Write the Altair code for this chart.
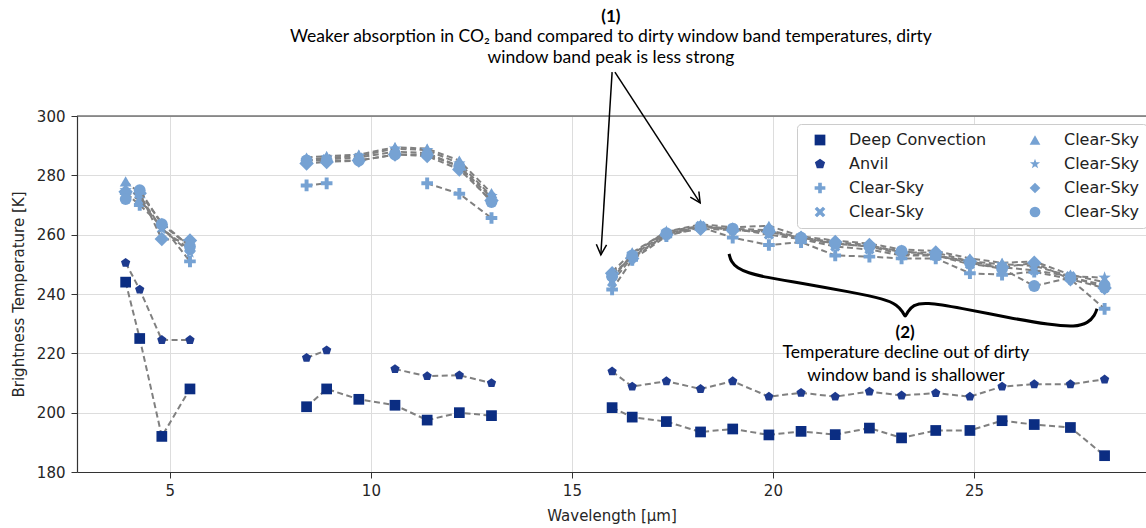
import altair as alt
import pandas as pd

# ---------------- data ----------------
wl_a = [3.9, 4.25, 4.8, 5.5]
wl_b = [8.4, 8.9, 9.7, 10.6, 11.4, 12.2, 13.0]
wl_c = [16.0, 16.5, 17.35, 18.2, 19.0, 19.9, 20.7, 21.55, 22.4, 23.2, 24.05, 24.9, 25.7, 26.5, 27.4, 28.25]

deep_a = [244, 225, 192, 208]
deep_b = [202, 208, 204.5, 202.5, 197.5, 200, 199]
deep_c = [201.7, 198.5, 197, 193.5, 194.5, 192.5, 193.7, 192.6, 194.8, 191.5, 194, 194, 197.3, 196, 195, 185.5]

anvil_a = [250.5, 241.5, 224.5, 224.5]
anvil_b = [218.5, 221, None, 214.7, 212.3, 212.6, 210]
anvil_c = [213.9, 208.8, 210.6, 208, 210.6, 205.4, 206.7, 205.4, 207.1, 205.8, 206.6, 205.4, 208.8, 209.6, 209.6, 211.2]

plus_a = [274, 270, 263, 251]
plus_b = [276.6, 277.3, None, None, 277.3, 273.8, 265.6]
plus_c = [241.5, 251.5, 259.5, 262.5, 259, 256.5, 257.5, 253, 252.6, 252, 252, 247, 246.5, 247.5, 245, 235]

xsky_a = [273, 272, 262, 255]
xsky_b = [285, 285.5, 286, 288, 287.5, 283, 272.5]
xsky_c = [244, 252.5, 260, 263, 262, 260, 258.5, 256, 255, 253, 253, 250, 249, 248, 246, 242]

tri_a = [278, 274, 264, 256]
tri_b = [286, 286.5, 287, 289.5, 289, 285, 274]
tri_c = [247.5, 254, 261, 263.5, 262.5, 263, 259.5, 258, 257, 255, 254.5, 252, 250.5, 251, 246.5, 244]

star_a = [275, 273, 262, 254]
star_b = [285, 286, 286.5, 289, 288.5, 284, 273]
star_c = [245, 253.5, 261, 263, 261.5, 261, 258.5, 257, 256, 253.5, 253, 251, 250, 249.5, 246, 245.5]

diam_a = [274.5, 274, 258.5, 258]
diam_b = [284, 284.5, 285, 287, 286.5, 282, 271.5]
diam_c = [247, 252, 260, 262, 261.5, 261, 259, 257.5, 256.5, 254, 254, 251, 249, 250.5, 245, 242]

circ_a = [272, 275, 263.5, 256]
circ_b = [285, 285, 285, 287, 287, 283, 271]
circ_c = [246, 253, 260.5, 262.5, 262, 261.5, 259, 257, 256, 254.5, 253, 250.5, 248.5, 242.7, 245.5, 243]

series = {
    "Deep Convection": (deep_a, deep_b, deep_c),
    "Anvil": (anvil_a, anvil_b, anvil_c),
    "Clear-Sky|plus": (plus_a, plus_b, plus_c),
    "Clear-Sky|x": (xsky_a, xsky_b, xsky_c),
    "Clear-Sky|tri": (tri_a, tri_b, tri_c),
    "Clear-Sky|star": (star_a, star_b, star_c),
    "Clear-Sky|diamond": (diam_a, diam_b, diam_c),
    "Clear-Sky|circle": (circ_a, circ_b, circ_c),
}
plot_order = list(series.keys())

# annotations (data units)
note_heads = ["(1)", "(2)"]
note_heads_x = [15.97, 23.29]
note_heads_y = [333.4, 227.0]
note_lines = ["Weaker absorption in CO\u2082 band compared to dirty window band temperatures, dirty",
              "window band peak is less strong",
              "Temperature decline out of dirty", "window band is shallower"]
note_lines_x = [15.97, 15.97, 23.31, 23.31]
note_lines_y = [326.6, 319.5, 220.1, 212.4]
arrow_x = [16.00, 15.72, 16.07, 18.19]
arrow_y = [314.8, 253.2, 314.8, 270.7]
arrow_angle = [183.4, 147.0]
brace_x = [18.91, 18.96, 19.11, 19.38, 19.80, 20.68, 21.92, 22.79, 23.09, 23.24, 23.29,
           23.34, 23.49, 23.78, 24.66, 25.90, 26.89, 27.52, 27.84, 28.01, 28.06]
brace_y = [253.5, 250.8, 248.8, 247.1, 245.7, 243.7, 240.7, 238.3, 236.3, 233.9, 231.9,
           233.9, 236.3, 237.3, 235.3, 231.9, 229.6, 228.9, 230.2, 232.9, 235.0]

# ---------------- styles ----------------
PENTAGON = "M0,-1L0.951,-0.309L0.588,0.809L-0.588,0.809L-0.951,-0.309Z"
PLUS = "M-0.34,-1L0.34,-1L0.34,-0.34L1,-0.34L1,0.34L0.34,0.34L0.34,1L-0.34,1L-0.34,0.34L-1,0.34L-1,-0.34L-0.34,-0.34Z"
XSHAPE = "M-1,-0.55L-0.55,-1L0,-0.45L0.55,-1L1,-0.55L0.45,0L1,0.55L0.55,1L0,0.45L-0.55,1L-1,0.55L-0.45,0Z"
STAR = ("M0,-1L0.235,-0.324L0.951,-0.309L0.380,0.124L0.588,0.809L0,0.4L-0.588,0.809"
        "L-0.380,0.124L-0.951,-0.309L-0.235,-0.324Z")
ARROWHEAD = "M-0.5,1L0,0L0.5,1"

DC_COL = "#0b2d82"
AN_COL = "#1d3a8e"
CS_COL = "#76a2d3"

style = {
    "Deep Convection": ("square", DC_COL, 115),
    "Anvil": (PENTAGON, AN_COL, 95),
    "Clear-Sky|plus": (PLUS, CS_COL, 135),
    "Clear-Sky|x": (XSHAPE, CS_COL, 105),
    "Clear-Sky|tri": ("triangle-up", CS_COL, 140),
    "Clear-Sky|star": (STAR, CS_COL, 170),
    "Clear-Sky|diamond": ("diamond", CS_COL, 210),
    "Clear-Sky|circle": ("circle", CS_COL, 140),
}
legend_order = plot_order

rows = []
for key, parts in series.items():
    seg = 0
    for wls, vals in zip([wl_a, wl_b, wl_c], parts):
        seg += 1
        for w, v in zip(wls, vals):
            if v is None:
                seg += 1
                continue
            rows.append({"series": key, "seg": seg, "wl": w, "bt": v})
df = pd.DataFrame(rows)

FONT = "DejaVu Sans"
X = alt.X("wl:Q", scale=alt.Scale(domain=[2.69, 29.28], nice=False, zero=False),
          axis=alt.Axis(values=[5, 10, 15, 20, 25], title="Wavelength [\u03bcm]", grid=True,
                        labelPadding=5, titlePadding=10))
Y = alt.Y("bt:Q", scale=alt.Scale(domain=[180, 300], nice=False, zero=False),
          axis=alt.Axis(values=[180, 200, 220, 240, 260, 280, 300], title="Brightness Temperature [K]",
                        grid=True, labelPadding=6, titlePadding=10))

legend = alt.Legend(title=None, orient="none", legendX=720, legendY=8, columns=2,
                    labelExpr="split(datum.label, '|')[0]", labelFont=FONT, labelFontSize=16,
                    labelColor="#222222", symbolSize=115, symbolStrokeWidth=0, rowPadding=8,
                    columnPadding=33, labelOffset=21, symbolOffset=7, padding=8,
                    strokeColor="#cccccc", fillColor="white", cornerRadius=4)
color_enc = alt.Color("series:N", scale=alt.Scale(domain=legend_order,
                      range=[style[k][1] for k in legend_order]), legend=legend)
shape_enc = alt.Shape("series:N", scale=alt.Scale(domain=legend_order,
                      range=[style[k][0] for k in legend_order]), legend=legend)

layers = []
for key in plot_order:
    sub = df[df.series == key]
    layers.append(alt.Chart(sub).mark_line(color="#808080", strokeWidth=2, strokeDash=[6, 3.5]).encode(
        x=X, y=Y, detail="seg:N", order="wl:Q"))
    layers.append(alt.Chart(sub).mark_point(filled=True, opacity=1, size=style[key][2]).encode(
        x=X, y=Y, color=color_enc, shape=shape_enc))

top_spine = alt.Chart(pd.DataFrame({"bt": [300]})).mark_rule(color="#333333", strokeWidth=1.2).encode(y=Y)

heads_df = pd.DataFrame({"wl": note_heads_x, "bt": note_heads_y, "t": note_heads})
heads_txt = alt.Chart(heads_df).mark_text(font="Lato", fontSize=17, fontWeight="bold", color="black",
                                          align="center", baseline="middle").encode(x=X, y=Y, text="t:N")
lines_df = pd.DataFrame({"wl": note_lines_x, "bt": note_lines_y, "t": note_lines})
lines_txt = alt.Chart(lines_df).mark_text(font="Lato", fontSize=17.5, color="black",
                                          align="center", baseline="middle").encode(x=X, y=Y, text="t:N")

arr = pd.DataFrame({"wl": arrow_x, "bt": arrow_y, "id": ["l", "l", "r", "r"], "o": [0, 1, 0, 1]})
arrows = alt.Chart(arr).mark_line(color="black", strokeWidth=1.5).encode(x=X, y=Y, detail="id:N", order="o:Q")
heads = pd.DataFrame({"wl": [arrow_x[1], arrow_x[3]], "bt": [arrow_y[1], arrow_y[3]], "ang": arrow_angle})
arrowheads = alt.Chart(heads).mark_point(shape=ARROWHEAD, size=420, color="black", strokeWidth=1.5,
                                         filled=False, opacity=1).encode(
    x=X, y=Y, angle=alt.Angle("ang:Q", scale=None))

br = pd.DataFrame({"wl": brace_x, "bt": brace_y, "o": list(range(len(brace_x)))})
brace = alt.Chart(br).mark_line(color="black", strokeWidth=3, interpolate="basis").encode(
    x=X, y=Y, order="o:Q")

chart = alt.layer(top_spine, *layers, arrows, arrowheads, brace, heads_txt, lines_txt).properties(
    width=1069, height=356,
    autosize=alt.AutoSizeParams(type="none"),
    padding={"left": 77, "top": 116, "right": 0, "bottom": 56},
).configure_view(stroke=None).configure_axis(
    labelFont=FONT, labelFontSize=15, labelColor="#262626",
    titleFont=FONT, titleFontSize=15, titleFontWeight="normal", titleColor="#262626",
    tickColor="#333333", domainColor="#333333", domainWidth=1.2, tickSize=6,
    gridColor="#dddddd", gridWidth=1,
).resolve_scale(color="shared", shape="shared")

chart.save("out.html", embed_options={"renderer": "svg", "actions": False})
